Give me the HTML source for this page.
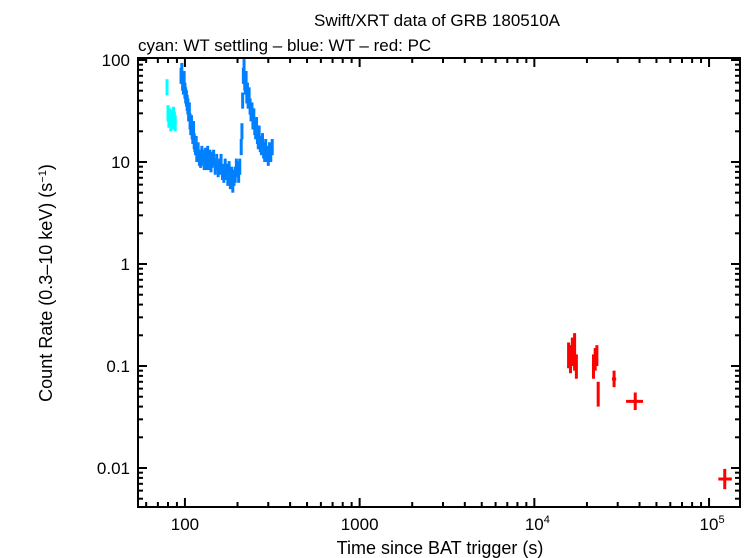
<!DOCTYPE html>
<html><head><meta charset="utf-8"><style>
body{margin:0;background:#fff;}
svg{display:block;font-family:"Liberation Sans",Arial,sans-serif;}
</style></head><body>
<svg id="chart" width="746" height="558" viewBox="0 0 746 558">
<text x="437" y="26" font-size="17" text-anchor="middle">Swift/XRT data of GRB 180510A</text>
<text x="138" y="51" font-size="17">cyan: WT settling – blue: WT – red: PC</text>
<text x="440" y="554" font-size="18" text-anchor="middle">Time since BAT trigger (s)</text>
<text transform="translate(52,283) rotate(-90)" font-size="18" text-anchor="middle">Count Rate (0.3–10 keV) (s<tspan font-size="11" dy="-6">−1</tspan><tspan dy="6">)</tspan></text>
<g id="ticks"></g>
<g id="marks"></g>
<rect x="138" y="58" width="602" height="449" fill="none" stroke="#000" stroke-width="2"/>
</svg>
<script>
// Data arrays
const cyanT = [79, 80, 81, 82, 83, 84, 85, 86, 87, 88];
const cyanR = [54, 30, 26, 28, 24, 27, 25, 29, 26, 24];
const blueT = [95,96,97,98,99,100,101,102,103,104,105,106,107,108,109,110,111,112,113,114,115,116,117,119,121,123,125,127,129,131,133,135,137,139,141,143,146,149,152,155,158,161,164,167,170,173,176,179,182,185,188,191,194,197,200,203,206,
210,212,214,216,218,220,222,224,226,228,230,233,236,239,242,245,248,251,254,257,260,263,266,270,274,278,282,286,290,295,300,305,310,316];
const blueR = [70,78,60,55,65,50,45,42,38,35,30,32,25,22,24,20,18,21,16,15,14,15,12,13,11,10.5,12,11,10,11.5,10,12,10,11,9.5,10.5,11,9,10,8.5,9,10,8,7.5,9,8,7,8.5,6.5,7.5,6,7,7.5,9,8.5,7.5,9,
14,20,40,70,85,60,55,65,45,50,40,45,35,30,32,25,28,22,20,23,18,16,19,15,14,16,13,12,14,12,11,13,12,14];
const redT = [15700,16100,16500,17000,17400,21800,22300,22800,23200,28600,37800,123000];
const redR = [0.13,0.12,0.14,0.12,0.10,0.10,0.12,0.13,0.053,0.0746,0.045,0.0078];
const redTLo = [15500,15900,16300,16800,17200,21600,22100,22600,23000,27800,33500,113000];
const redTHi = [15900,16300,16700,17200,17600,22000,22500,23000,23400,29400,41900,135000];
const redRLo = [0.095,0.085,0.10,0.09,0.075,0.075,0.09,0.10,0.040,0.062,0.037,0.0062];
const redRHi = [0.17,0.16,0.19,0.21,0.13,0.13,0.15,0.16,0.07,0.09,0.055,0.0098];
const yTickVals = [100,10,1,0.1,0.01];
const yTickLabels = ["100","10","1","0.1","0.01"];
const xTickVals = [100,1000,10000,100000];
const xTickLabels = ["100","1000","10<tspan font-size='11' dy='-7'>4</tspan>","10<tspan font-size='11' dy='-7'>5</tspan>"];

const L=138,R=740,T=58,B=507;
const X0=2-47/175, X1=5+31/175, Y0=-2-39/102, Y1=2+2/102;
const xs=t=>L+(Math.log10(t)-X0)/(X1-X0)*(R-L);
const ys=r=>B-(Math.log10(r)-Y0)/(Y1-Y0)*(B-T);
const NS="http://www.w3.org/2000/svg";
const mk=(p,tag,a)=>{const e=document.createElementNS(NS,tag);for(const k in a)e.setAttribute(k,a[k]);p.appendChild(e);return e;};
const tk=document.getElementById('ticks'), mg=document.getElementById('marks');

for(let d=1;d<=5;d++){for(let m=1;m<=9;m++){const v=m*Math.pow(10,d);const x=xs(v);if(x<=L||x>=R)continue;const len=m===1?9:5;
 const a=mk(tk,'line',{x1:x,x2:x,y1:B,y2:B-len,stroke:'#000','stroke-width':2});
 
 
 const b=mk(tk,'line',{x1:x,x2:x,y1:T,y2:T+len,stroke:'#000','stroke-width':2});
 
 }}
for(let d=-3;d<=2;d++){for(let m=1;m<=9;m++){const v=m*Math.pow(10,d);const y=ys(v);if(y<=T||y>=B)continue;const len=m===1?9:5;
 const a=mk(tk,'line',{x1:L,x2:L+len,y1:y,y2:y,stroke:'#000','stroke-width':2});
 
 
 const b=mk(tk,'line',{x1:R,x2:R-len,y1:y,y2:y,stroke:'#000','stroke-width':2});
 
 }}
yTickVals.forEach((v,i)=>{const t=mk(tk,'text',{x:130,y:ys(v)+6,'font-size':17,'text-anchor':'end'});t.textContent=yTickLabels[i];
 
 });
xTickVals.forEach((v,i)=>{const t=mk(tk,'text',{x:xs(v)+(i>=2?3:0),y:530,'font-size':17,'text-anchor':'middle'});t.innerHTML=xTickLabels[i];
 
 });

function wtSeries(T_,R_,color,name){
 T_.forEach((t,i)=>{const r=R_[i];const x=xs(t);
  const g=mk(mg,'g',{});
  
  
  mk(g,'line',{x1:x,x2:x,y1:ys(r*1.2),y2:ys(r/1.2),stroke:color,'stroke-width':3});
  mk(g,'line',{x1:xs(t*0.995),x2:xs(t*1.005),y1:ys(r),y2:ys(r),stroke:color,'stroke-width':3});
 });
}
wtSeries(cyanT,cyanR,'#00ffff','cyan-point');
wtSeries(blueT,blueR,'#0080ff','blue-point');
redT.forEach((t,i)=>{
 const g=mk(mg,'g',{});
 
 
 mk(g,'line',{x1:xs(t),x2:xs(t),y1:ys(redRHi[i]),y2:ys(redRLo[i]),stroke:'#ff0000','stroke-width':3});
 mk(g,'line',{x1:xs(redTLo[i]),x2:xs(redTHi[i]),y1:ys(redR[i]),y2:ys(redR[i]),stroke:'#ff0000','stroke-width':3});
});
</script>
</body></html>
